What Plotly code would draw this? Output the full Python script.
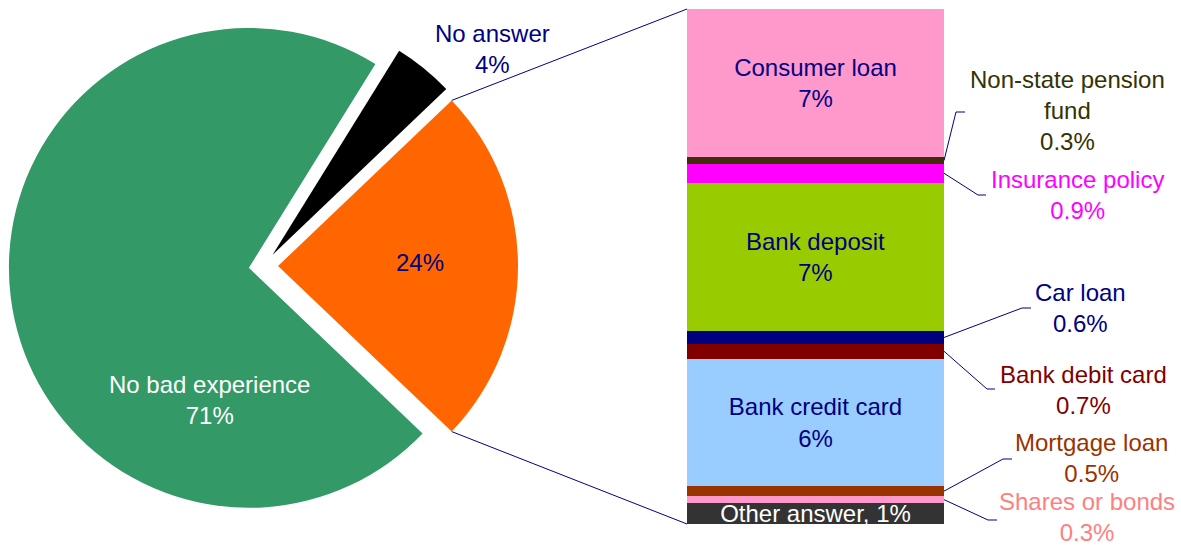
import math
import plotly.graph_objects as go

W, H = 1181, 550
FONT = "Liberation Sans, Arial, sans-serif"
NAVY = "#000080"

# ---- pie: overall experience ----
pie_labels = ["Bad experience", "No bad experience", "No answer"]
pie_values = [24, 71, 4]
pie_colors = ["#FF6600", "#339966", "#000000"]
pie_text_colors = [NAVY, "#FFFFFF", NAVY]
pie_pull = 0.061

# ---- breakdown of bad experience (top to bottom) ----
bar_labels = ["Consumer loan", "Non-state pension fund", "Insurance policy", "Bank deposit",
              "Car loan", "Bank debit card", "Bank credit card", "Mortgage loan",
              "Shares or bonds", "Other answer"]
bar_values = [7, 0.3, 0.9, 7, 0.6, 0.7, 6, 0.5, 0.3, 1]
bar_colors = ["#FF99CC", "#3F2E08", "#FF00FF", "#99CC00", "#000080", "#800000",
              "#99CCFF", "#993300", "#FF99CC", "#333333"]
bar_text_colors = [NAVY, "#333300", "#FF00FF", NAVY, NAVY, "#800000",
                   NAVY, "#993300", "#FF8080", "#FFFFFF"]
inside_labels = {"Consumer loan", "Bank deposit", "Bank credit card", "Other answer"}


def pct(v):
    return f"{v:g}%"


def px(x):
    return x / W


def py(y):
    return 1 - y / H


# pie geometry (pixels)
pie_cx, pie_cy, pie_half = 263.4, 266.0, 254.6
pie_r = pie_half / (1 + pie_pull)
pie_dom_x = [px(pie_cx - pie_half), px(pie_cx + pie_half)]
pie_dom_y = [py(pie_cy + pie_half), py(pie_cy - pie_half)]

# bar geometry (pixels)
bar_left, bar_right, bar_top, bar_bottom = 687, 944, 9, 524
bar_dom_x = [px(bar_left), px(bar_right)]
bar_dom_y = [py(bar_bottom), py(bar_top)]
total = sum(bar_values)

fig = go.Figure()

# rotation so that the first slice is centred on the 3 o'clock direction
half_angle = pie_values[0] / sum(pie_values) * 180
fig.add_trace(go.Pie(
    labels=pie_labels, values=pie_values, sort=False, direction="clockwise",
    rotation=90 - half_angle, pull=[pie_pull] * 3,
    marker=dict(colors=pie_colors, line=dict(width=0)),
    textinfo="none", hoverinfo="skip", showlegend=False,
    domain=dict(x=pie_dom_x, y=pie_dom_y),
))

# stacked bar, drawn bottom-up
for lab, val, col, tcol in reversed(list(zip(bar_labels, bar_values, bar_colors, bar_text_colors))):
    if lab in inside_labels:
        txt = f"{lab}, {pct(val)}" if lab == "Other answer" else f"{lab}<br>{pct(val)}"
    else:
        txt = ""
    fig.add_trace(go.Bar(
        x=[0], y=[val], width=1, marker=dict(color=col, line=dict(width=0)),
        text=[txt], textposition="inside", insidetextanchor="middle",
        textangle=0, constraintext="none",
        textfont=dict(color=tcol, size=24, family=FONT),
        xaxis="x2", yaxis="y2", showlegend=False, hoverinfo="skip",
    ))

annotations = []
shapes = []

# pie labels
pie_label_pos = {
    "No bad experience": (209, 400, True),
    "Bad experience": (420, 262, False),
    "No answer": (492, 49, True),
}
for lab, val, tcol in zip(pie_labels, pie_values, pie_text_colors):
    x, y, named = pie_label_pos[lab]
    annotations.append(dict(
        x=px(x), y=py(y), xref="paper", yref="paper", showarrow=False,
        text=f"{lab}<br>{pct(val)}" if named else pct(val),
        font=dict(color=tcol, size=24, family=FONT),
        xanchor="center", yanchor="middle",
    ))

# series lines joining the exploded slice to the bar
apex_x = pie_cx + pie_pull * pie_r
for sgn, by in ((1, bar_top), (-1, bar_bottom)):
    a = math.radians(half_angle)
    cx_ = apex_x + pie_r * math.cos(a)
    cy_ = pie_cy - sgn * pie_r * math.sin(a)
    shapes.append(dict(type="line", xref="paper", yref="paper",
                       x0=px(cx_), y0=py(cy_), x1=px(bar_left), y1=py(by),
                       line=dict(color=NAVY, width=1)))

# callouts for the thin segments: label centre, elbow start, elbow end
callouts = {
    "Non-state pension fund": ((1067, 111), (956, 112), (965, 112)),
    "Insurance policy": ((1077, 195), (978, 195), (986, 195)),
    "Car loan": ((1080, 307.5), (1022, 308), (1031, 308)),
    "Bank debit card": ((1083, 389.5), (987, 389), (995, 389)),
    "Mortgage loan": ((1091, 458), (1003, 459), (1012, 459)),
    "Shares or bonds": ((1087, 517), (988, 520), (997, 520)),
}
cum_top = 0.0
for lab, val, tcol in zip(bar_labels, bar_values, bar_text_colors):
    mid = cum_top + val / 2
    cum_top += val
    if lab not in callouts:
        continue
    (lx, ly), (ex, ey), (hx, hy) = callouts[lab]
    sy = bar_top + (bar_bottom - bar_top) * mid / total
    text = "Non-state pension<br>fund" if lab == "Non-state pension fund" else lab
    annotations.append(dict(
        x=px(lx), y=py(ly), xref="paper", yref="paper", showarrow=False,
        text=f"{text}<br>{pct(val)}", font=dict(color=tcol, size=24, family=FONT),
        xanchor="center", yanchor="middle", borderpad=0,
    ))
    shapes.append(dict(type="path", xref="paper", yref="paper",
                       path=f"M {px(bar_right)},{py(sy)} L {px(ex)},{py(ey)} L {px(hx)},{py(hy)}",
                       line=dict(color=NAVY, width=1)))

fig.update_layout(
    width=W, height=H, margin=dict(l=0, r=0, t=0, b=0),
    paper_bgcolor="white", plot_bgcolor="white",
    barmode="stack", bargap=0,
    font=dict(family=FONT, size=24),
    xaxis2=dict(domain=bar_dom_x, range=[-0.5, 0.5], visible=False, fixedrange=True, anchor="y2"),
    yaxis2=dict(domain=bar_dom_y, range=[0, total], visible=False, fixedrange=True, anchor="x2"),
    xaxis=dict(visible=False), yaxis=dict(visible=False),
    annotations=annotations, shapes=shapes,
)

fig.write_html("out.html")
